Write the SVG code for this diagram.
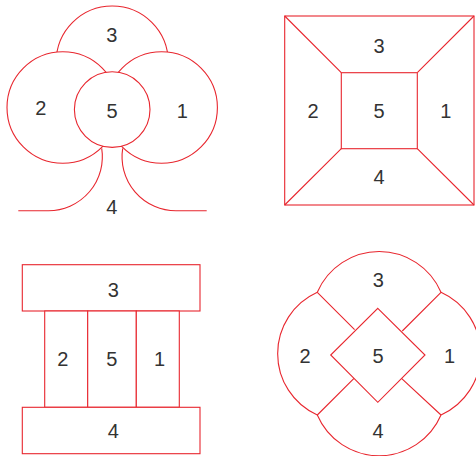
<svg xmlns="http://www.w3.org/2000/svg" width="476" height="456" viewBox="0 0 476 456">
<style>
.s{fill:#fff;stroke:#e8262e;stroke-width:1.1}
.l{fill:none;stroke:#e8262e;stroke-width:1.1}
.t{font-family:"Liberation Sans",Arial,sans-serif;font-size:20px;fill:#333;text-anchor:middle}
</style>
<rect width="476" height="456" fill="#fff"/>
<g id="panel1">
  <g id="p1-3"><circle class="s" cx="112.2" cy="62" r="56"/><text class="t" x="111.7" y="42">3</text></g>
  <g id="p1-2"><circle class="s" cx="62.8" cy="107.5" r="55.8"/><text class="t" x="40.7" y="115">2</text></g>
  <g id="p1-1"><circle class="s" cx="161.6" cy="107.5" r="55.8"/><text class="t" x="182.2" y="118.3">1</text></g>
  <g id="p1-5"><circle class="s" cx="112.2" cy="109.6" r="37.8"/><text class="t" x="112" y="118.3">5</text></g>
  <g id="p1-4">
    <path class="l" d="M101.7,148.3 A54,54 0 0 1 48.5,210.7 L18.3,210.7"/>
    <path class="l" d="M122.7,148.3 A54,54 0 0 0 176,210.7 L206.7,210.7"/>
    <text class="t" x="111.7" y="214">4</text>
  </g>
</g>
<g id="panel2">
  <g id="p2-frame"><rect class="s" x="284.7" y="16" width="189.3" height="189"/></g>
  <g id="p2-diagonals" class="l">
    <path class="l" d="M284.7,16 L341.3,72.7 M474,16 L417.3,72.7 M284.7,205 L341.3,148.7 M474,205 L417.3,148.7"/>
  </g>
  <g id="p2-5"><rect class="s" x="341.3" y="72.7" width="76" height="76"/><text class="t" x="379" y="118.3">5</text></g>
  <g id="p2-3"><text class="t" x="379" y="52.7">3</text></g>
  <g id="p2-2"><text class="t" x="313" y="118.3">2</text></g>
  <g id="p2-1"><text class="t" x="445.8" y="118.3">1</text></g>
  <g id="p2-4"><text class="t" x="379" y="184.3">4</text></g>
</g>
<g id="panel3">
  <g id="p3-3"><rect class="s" x="22.3" y="264.7" width="177.7" height="46.3"/><text class="t" x="113.3" y="296.5">3</text></g>
  <g id="p3-2"><rect class="s" x="44.7" y="311" width="43" height="96.3"/><text class="t" x="62.7" y="366.3">2</text></g>
  <g id="p3-5"><rect class="s" x="87.7" y="311" width="48.6" height="96.3"/><text class="t" x="111.7" y="366.3">5</text></g>
  <g id="p3-1"><rect class="s" x="136.3" y="311" width="43" height="96.3"/><text class="t" x="159.5" y="366.3">1</text></g>
  <g id="p3-4"><rect class="s" x="22.3" y="407.3" width="177.7" height="46.4"/><text class="t" x="113.3" y="438">4</text></g>
</g>
<g id="panel4">
  <g id="p4-outline"><path class="s" d="M317.3,292.3 A67.3,67.3 0 0 1 441,292.3 A67.3,67.3 0 0 1 441,415 A67.3,67.3 0 0 1 317.3,415 A67.3,67.3 0 0 1 317.3,292.3 Z"/></g>
  <g id="p4-dividers"><path class="l" d="M317.3,292.3 L354.6,329.6 M441,292.3 L402.3,331 M317.3,415 L354,378.3 M441,415 L401.5,378.3"/></g>
  <g id="p4-5"><path class="s" d="M377.8,308.3 L425,355 L377.8,402.3 L330.7,355 Z"/><text class="t" x="378" y="362.7">5</text></g>
  <g id="p4-3"><text class="t" x="378.3" y="286.7">3</text></g>
  <g id="p4-2"><text class="t" x="305" y="362.7">2</text></g>
  <g id="p4-1"><text class="t" x="449.5" y="362.7">1</text></g>
  <g id="p4-4"><text class="t" x="378" y="437.7">4</text></g>
</g>
</svg>
